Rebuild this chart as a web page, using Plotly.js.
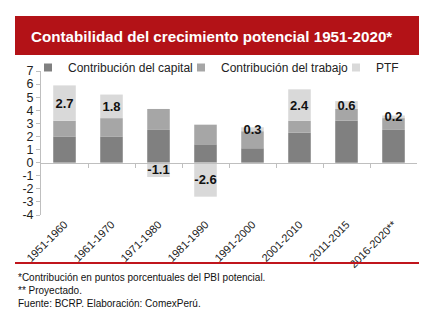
<!DOCTYPE html>
<html><head><meta charset="utf-8">
<script src="https://cdn.plot.ly/plotly-3.0.1.min.js"></script>
<style>html,body{margin:0;padding:0;background:#fff;}#chart{width:442px;height:327px;}</style>
</head><body><div id="chart"></div>
<script>
const categories = ["1951-1960","1961-1970","1971-1980","1981-1990","1991-2000","2001-2010","2011-2015","2016-2020**"];
const capital = [2.0, 2.0, 2.5, 1.4, 1.1, 2.3, 3.2, 2.5];
const trabajo = [1.2, 1.4, 1.6, 1.5, 1.3, 0.9, 0.9, 0.9];
const ptf = [2.7, 1.8, -1.1, -2.6, 0.3, 2.4, 0.6, 0.2];
const seriesNames = ["Contribución del capital", "Contribución del trabajo", "PTF"];
const seriesColors = ['#808080', '#a6a6a6', '#d9d9d9'];
const yTicks = [-4,-3,-2,-1,0,1,2,3,4,5,6,7];

const FONT = 'Liberation Sans, Arial, sans-serif';
const traces = [
  {type:'bar', name:seriesNames[0], x:categories, y:capital, marker:{color:seriesColors[0]}, showlegend:false},
  {type:'bar', name:seriesNames[1], x:categories, y:trabajo, marker:{color:seriesColors[1]}, showlegend:false},
  {type:'bar', name:seriesNames[2], x:categories, y:ptf, marker:{color:seriesColors[2]}, showlegend:false,
   text: ptf.map(v=>v.toFixed(1)), textposition:'inside', insidetextanchor:'middle', constraintext:'none',
   textangle:0, textfont:{family:FONT, size:13, color:'#111', weight:'bold'}}
];
// legend entries (one per legend box so each can be placed like the reference)
const legendIds = ['legend','legend2','legend3'];
seriesNames.forEach((n,i)=>{
  traces.push({type:'scatter', mode:'markers', x:[null], y:[null], name:n, legend:legendIds[i],
    marker:{symbol:'square', size:8, color:seriesColors[i]}, showlegend:true});
});
traces.push({type:'scatter', x:[0], y:[0], xaxis:'x2', mode:'markers', marker:{opacity:0}, showlegend:false});

const pw=376, ph=144, ml=41, mb=112;
const px = x => (x-ml)/pw;
const py = y => (327-mb-y)/ph;

const legendStyle = (xpix) => ({orientation:'h', x:px(xpix), xanchor:'left', y:py(53), yanchor:'top',
  font:{size:12, color:'#222', family:FONT}, bgcolor:'rgba(0,0,0,0)', borderwidth:0});

const layout = {
  width:442, height:327,
  margin:{l:ml, r:25, t:71, b:mb},
  paper_bgcolor:'#fff', plot_bgcolor:'#fff',
  barmode:'relative', bargap:0.52,
  font:{family:FONT, color:'#222'},
  showlegend:true,
  legend:legendStyle(28),
  legend2:legendStyle(181),
  legend3:legendStyle(336),
  xaxis:{type:'category', tickangle:-45, tickfont:{size:11, color:'#222'}, showline:false,
         ticks:'', showgrid:false, zeroline:false},
  xaxis2:{overlaying:'x', range:[-0.5,7.5], anchor:'free', position:4/11, showline:true, linecolor:'#bfbfbf',
          linewidth:1, ticks:'outside', ticklen:4, tickcolor:'#bfbfbf', tickvals:[0.5,1.5,2.5,3.5,4.5,5.5,6.5],
          showticklabels:false, showgrid:false, zeroline:false},
  yaxis:{range:[-4,7], tickvals:yTicks, ticktext:yTicks.map(String), showgrid:false, zeroline:false, showline:true, linecolor:'#bfbfbf',
         ticks:'outside', ticklen:4, tickcolor:'#bfbfbf', tickfont:{size:12.5, color:'#222'}},
  shapes:[
    {type:'rect', xref:'paper', yref:'paper', x0:px(15), x1:px(419), y0:py(55), y1:py(16), fillcolor:'#b31217', line:{width:0}},
    {type:'line', xref:'paper', yref:'paper', x0:px(15), x1:px(419), y0:py(263), y1:py(263), line:{color:'#c0151c', width:2}}
  ],
  annotations:[
    {xref:'paper', yref:'paper', x:px(29), y:py(36), xanchor:'left', yanchor:'middle', showarrow:false,
     text:'<b>Contabilidad del crecimiento potencial 1951-2020*</b>', font:{size:15.2, color:'#fff', family:FONT}},
    {xref:'paper', yref:'paper', x:px(16), y:py(270), xanchor:'left', yanchor:'top', showarrow:false, align:'left',
     text:'*Contribución en puntos porcentuales del PBI potencial.<br>** Proyectado.<br>Fuente: BCRP. Elaboración: ComexPerú.',
     font:{size:10, color:'#111', family:FONT}}
  ]
};

Plotly.newPlot('chart', traces, layout, {staticPlot:true, displayModeBar:false});
</script></body></html>
